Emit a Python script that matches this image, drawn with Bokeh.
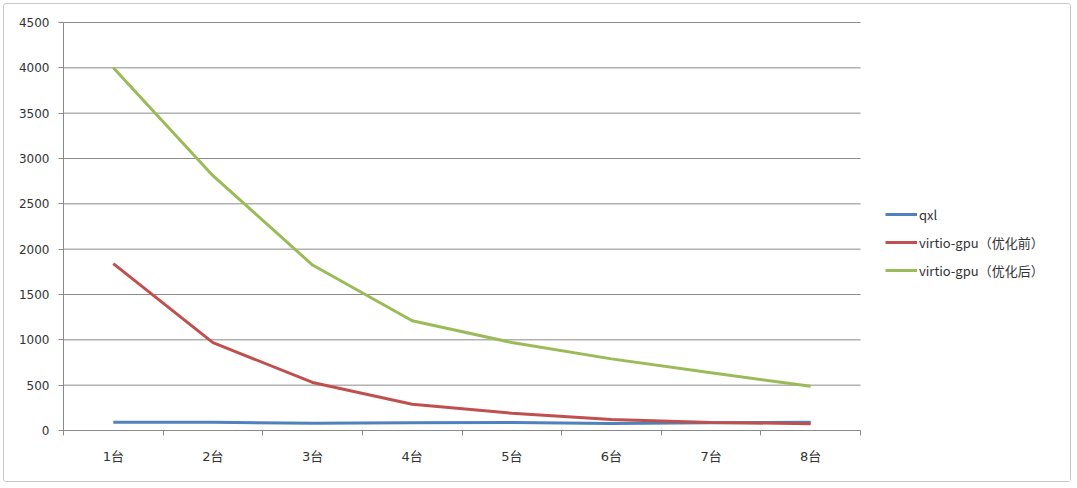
from bokeh.plotting import figure
from bokeh.models import FixedTicker, Legend, LegendItem, Range1d
from bokeh.embed import file_html
from bokeh.resources import INLINE

categories = ["1台", "2台", "3台", "4台", "5台", "6台", "7台", "8台"]
y_ticks = [0, 500, 1000, 1500, 2000, 2500, 3000, 3500, 4000, 4500]
series_names = ["qxl", "virtio-gpu（优化前）", "virtio-gpu（优化后）"]
qxl = [90, 90, 80, 85, 88, 78, 85, 92]
virtio_before = [1840, 970, 530, 290, 190, 120, 88, 75]
virtio_after = [4000, 2810, 1825, 1210, 970, 790, 636, 488]
colors = ["#4F81BD", "#C0504D", "#9BBB59"]

x = list(range(1, len(categories) + 1))
boundaries = [i + 0.5 for i in range(0, len(categories) + 1)]
x_lo, x_hi = 0.5, len(categories) + 0.5

# plot area: categories occupy 797px; the frame extends further right to host the legend
cat_px = 797.0 / len(categories)
frame_px = 1004.0
x_end = x_lo + frame_px / cat_px
y_pad = 4500 / 408.0  # one pixel of headroom so the top gridline is not clipped

p = figure(width=1068, height=479, output_backend="svg", toolbar_location=None,
           x_range=Range1d(x_lo, x_end), y_range=Range1d(0, 4500 + y_pad),
           min_border_left=59, min_border_right=5, min_border_top=17,
           min_border_bottom=53, background_fill_color="white",
           border_fill_color="white",
           styles={"border": "1px solid #c8c8c8", "border-radius": "3px",
                   "margin": "3px 0 0 3px"})
p.outline_line_color = None

grid_col = "#8a8a8a"
p.xgrid.visible = False
p.ygrid.visible = False
p.segment(x0=[x_lo] * len(y_ticks), x1=[x_hi] * len(y_ticks), y0=y_ticks, y1=y_ticks,
          line_color=grid_col, line_width=1)

tick_font = "DejaVu Sans, 'Noto Sans CJK SC'"

p.yaxis.ticker = FixedTicker(ticks=y_ticks)
p.yaxis.bounds = (0, 4500)
p.yaxis.axis_line_color = grid_col
p.yaxis.major_tick_line_color = grid_col
p.yaxis.major_tick_out = 5
p.yaxis.major_tick_in = 0
p.yaxis.minor_tick_line_color = None
p.yaxis.major_label_standoff = 9
p.yaxis.major_label_text_font = tick_font
p.yaxis.major_label_text_font_size = "12px"
p.yaxis.major_label_text_color = "#333333"

p.xaxis.ticker = FixedTicker(ticks=x, minor_ticks=boundaries)
p.xaxis.bounds = (x_lo, x_hi)
p.xaxis.major_label_overrides = {i: c for i, c in zip(x, categories)}
p.xaxis.axis_line_color = grid_col
p.xaxis.major_tick_line_color = None
p.xaxis.major_tick_out = 0
p.xaxis.major_tick_in = 0
p.xaxis.minor_tick_line_color = grid_col
p.xaxis.minor_tick_out = 5
p.xaxis.minor_tick_in = 0
p.xaxis.major_label_standoff = 13
p.xaxis.major_label_text_font = tick_font
p.xaxis.major_label_text_font_size = "13px"
p.xaxis.major_label_text_color = "#333333"

renderers = []
for vals, col in zip([qxl, virtio_before, virtio_after], colors):
    r = p.line(x, vals, line_color=col, line_width=3)
    renderers.append(r)

legend = Legend(
    items=[LegendItem(label=n, renderers=[r]) for n, r in zip(series_names, renderers)],
    location=(822, 150), orientation="vertical",
    glyph_width=32, glyph_height=20, label_height=20, spacing=8,
    padding=0, margin=0, border_line_color=None, background_fill_alpha=0,
    label_text_font="Noto Sans CJK SC", label_text_font_size="13px",
    label_text_color="#333333", label_standoff=2,
)
p.add_layout(legend)

open("out.html", "w").write(file_html(p, INLINE))
